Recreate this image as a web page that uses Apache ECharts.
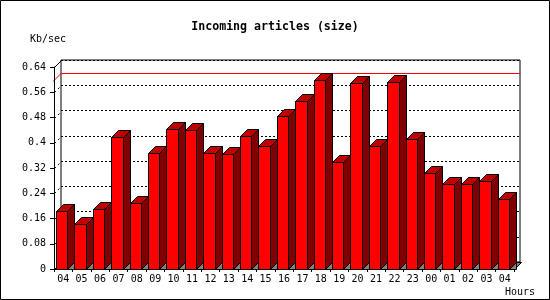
<!DOCTYPE html>
<html><head><meta charset="utf-8">
<script src="https://cdn.jsdelivr.net/npm/echarts/dist/echarts.min.js"></script>
<style>html,body{margin:0;padding:0;background:#fff}#c{width:550px;height:300px}</style>
</head><body><div id="c"></div>
<script>
const hours = ['04','05','06','07','08','09','10','11','12','13','14','15','16','17','18','19','20','21','22','23','00','01','02','03','04'];
const sizeKbSec = [0.184,0.143,0.190,0.418,0.208,0.367,0.443,0.439,0.367,0.363,0.421,0.389,0.484,0.532,0.599,0.338,0.589,0.389,0.591,0.412,0.303,0.268,0.268,0.279,0.221];
const yTicks = [0,0.08,0.16,0.24,0.32,0.40,0.48,0.56,0.64];
const titleText = 'Incoming articles (size)';
const yName = 'Kb/sec';
const xName = 'Hours';

const D = 7;
const FONT = 'DejaVu Sans Mono';
const px = v => Math.round(v) + 0.5;
const maxVal = Math.max(...sizeKbSec);

const chart = echarts.init(document.getElementById('c'));
chart.setOption({
  animation: false,
  backgroundColor: '#fff',
  grid: [
    {left: 54, right: 36, top: 67, bottom: 31, z: 5},
    {left: 61, right: 30, top: 60, bottom: 38, show: true, borderColor: '#000', borderWidth: 1, backgroundColor: 'transparent', z: 0}
  ],
  xAxis: [
    {type: 'category', gridIndex: 0, data: hours, boundaryGap: true, z: 10,
     axisLine: {show: true, lineStyle: {color: '#000', width: 1}},
     axisTick: {show: true, interval: 0, length: 3, lineStyle: {color: '#000'}},
     axisLabel: {interval: 0, margin: 5, color: '#000', fontFamily: FONT, fontSize: 10},
     splitLine: {show: false}},
    {type: 'value', gridIndex: 1, min: 0, max: 1, show: false}
  ],
  yAxis: [
    {type: 'value', gridIndex: 0, min: 0, max: 0.64, interval: 0.08, z: 10,
     axisLine: {show: true, lineStyle: {color: '#000', width: 1}},
     axisTick: {show: true, length: 4, lineStyle: {color: '#000'}},
     axisLabel: {margin: 8, color: '#000', fontFamily: FONT, fontSize: 10},
     splitLine: {show: false}},
    {type: 'value', gridIndex: 1, min: 0, max: 0.64, interval: 0.08,
     axisLine: {show: false}, axisTick: {show: false}, axisLabel: {show: false},
     splitLine: {show: true, lineStyle: {color: '#000', width: 1, type: [2, 2]}}}
  ],
  graphic: [
    {type: 'text', z: 50, style: {x: 275, y: 27, text: titleText, textAlign: 'center', textVerticalAlign: 'middle', fill: '#000', font: 'bold 11.6px "DejaVu Sans Mono"'}},
    {type: 'text', z: 50, style: {x: 30, y: 39, text: yName, textAlign: 'left', textVerticalAlign: 'middle', fill: '#000', font: '10px "DejaVu Sans Mono"'}},
    {type: 'text', z: 50, style: {x: 505, y: 292, text: xName, textAlign: 'left', textVerticalAlign: 'middle', fill: '#000', font: '10px "DejaVu Sans Mono"'}},
    {type: 'rect', z: 50, shape: {x: 0.5, y: 0.5, width: 549, height: 299}, style: {fill: 'none', stroke: '#000', lineWidth: 1}}
  ],
  series: [
    { // floor + tick connectors
      type: 'custom', xAxisIndex: 0, yAxisIndex: 0, z: 1, silent: true,
      data: yTicks.map(v => [0, v]),
      renderItem(params, api) {
        const cs = params.coordSys;
        const v = api.value(1);
        const y = api.coord([0, v])[1];
        const x0 = px(cs.x), yy = px(y);
        const children = [];
        if (v === 0) {
          const x1 = px(cs.x + cs.width);
          children.push({type: 'polygon', shape: {points: [[x0, yy], [x1, yy], [x1 + D, yy - D], [x0 + D, yy - D]]},
            style: {fill: '#808080', stroke: '#000', lineWidth: 1}});
        } else {
          const solid = Math.abs(v - 0.64) < 1e-9;
          children.push({type: 'line', shape: {x1: x0, y1: yy, x2: x0 + D, y2: yy - D},
            style: {stroke: '#000', lineWidth: 1, lineDash: solid ? null : [2, 3]}});
        }
        return {type: 'group', children};
      }
    },
    { // maximum line
      type: 'custom', xAxisIndex: 0, yAxisIndex: 0, z: 2, silent: true,
      data: [[0, maxVal]],
      renderItem(params, api) {
        const cs = params.coordSys;
        const y = api.coord([0, api.value(1)])[1];
        const x0 = cs.x - 1, yy = px(y);
        return {type: 'polyline', shape: {points: [[x0, yy + 1], [x0 + D + 1, yy - D], [px(cs.x + cs.width) + D - 1, yy - D]]},
          style: {stroke: '#ff0000', fill: 'none', lineWidth: 1}};
      }
    },
    { // 3D bars
      type: 'custom', xAxisIndex: 0, yAxisIndex: 0, z: 3, silent: true,
      data: sizeKbSec.map((v, i) => [i, v]),
      renderItem(params, api) {
        const i = api.value(0), v = api.value(1);
        const top = api.coord([i, v]), base = api.coord([i, 0]);
        const bw = api.size([1, 0])[0];
        const x0 = px(top[0] - bw / 2 + 2);
        const x1 = px(top[0] - bw / 2 + 2 + bw - D);
        const yT = px(top[1]), yB = px(base[1]);
        return {type: 'group', children: [
          {type: 'polygon', shape: {points: [[x1, yB], [x1 + D, yB - D], [x1 + D, yB]]}, style: {fill: '#808080', stroke: '#000', lineWidth: 1}},
          {type: 'polygon', shape: {points: [[x1, yT], [x1 + D, yT - D], [x1 + D, yB - D], [x1, yB]]}, style: {fill: '#800000', stroke: '#000', lineWidth: 1}},
          {type: 'polygon', shape: {points: [[x0, yT], [x0 + D, yT - D], [x1 + D, yT - D], [x1, yT]]}, style: {fill: '#c00000', stroke: '#000', lineWidth: 1}},
          {type: 'rect', shape: {x: x0, y: yT, width: x1 - x0, height: yB - yT}, style: {fill: '#ff0000', stroke: '#000', lineWidth: 1}}
        ]};
      }
    }
  ]
});
</script>
</body></html>
